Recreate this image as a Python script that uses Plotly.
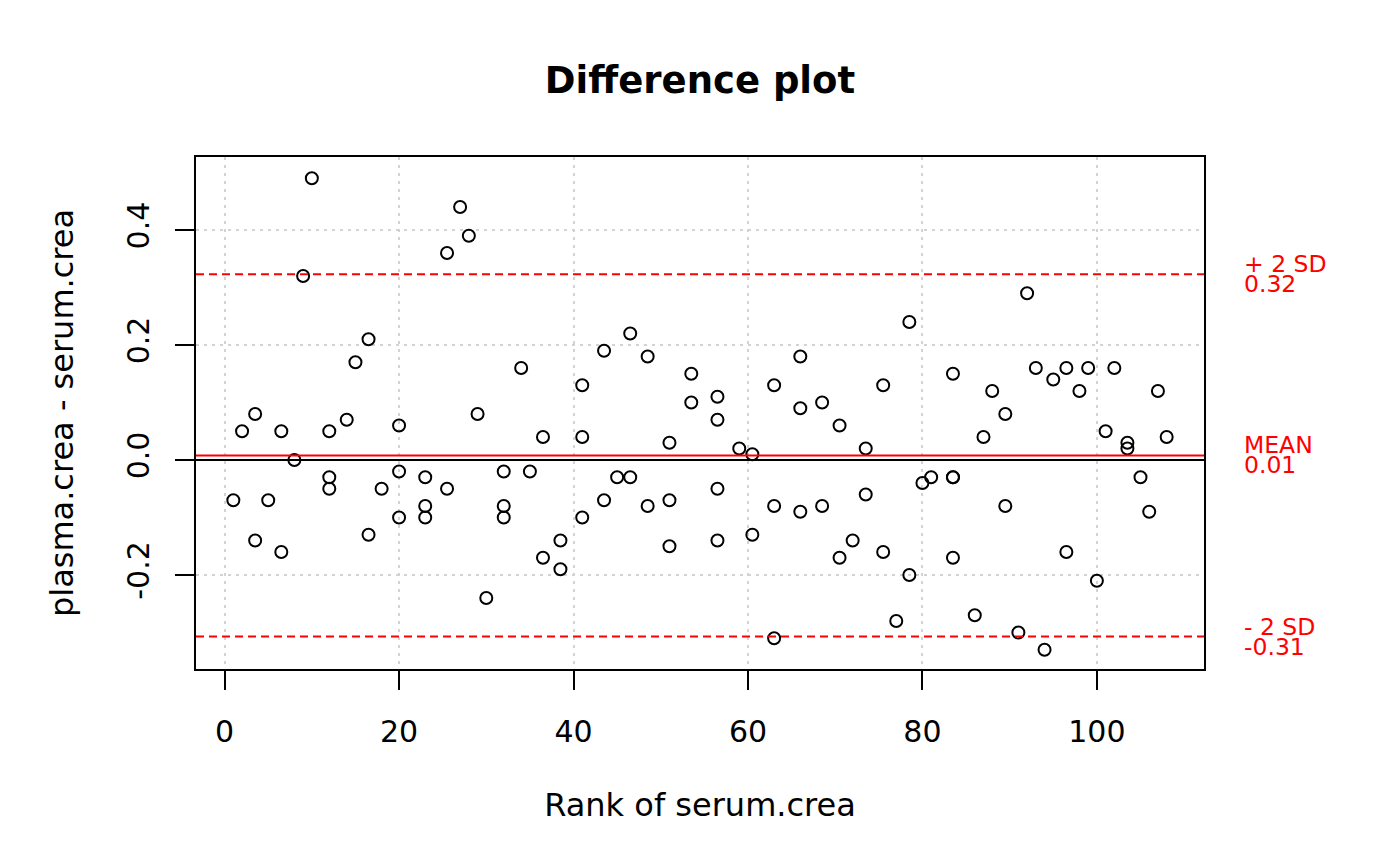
import plotly.graph_objects as go

# Ranks of serum.crea (x) and differences plasma.crea - serum.crea (y)
rank = [1, 2, 3.5, 3.5, 5, 6.5, 6.5, 8, 9, 10,
        12, 12, 12, 14, 15, 16.5, 16.5, 18, 20, 20,
        20, 23, 23, 23, 25.5, 25.5, 27, 28, 29, 30,
        32, 32, 32, 34, 35, 36.5, 36.5, 38.5, 38.5, 41,
        41, 41, 43.5, 43.5, 45, 46.5, 46.5, 48.5, 48.5, 51,
        51, 51, 53.5, 53.5, 56.5, 56.5, 56.5, 56.5, 59, 60.5,
        60.5, 63, 63, 63, 66, 66, 66, 68.5, 68.5, 70.5,
        70.5, 72, 73.5, 73.5, 75.5, 75.5, 77, 78.5, 78.5, 80,
        81, 83.5, 83.5, 83.5, 83.5, 86, 87, 88, 89.5, 89.5,
        91, 92, 93, 94, 95, 96.5, 96.5, 98, 99, 100,
        101, 102, 103.5, 103.5, 105, 106, 107, 108]
diff = [-0.07, 0.05, 0.08, -0.14, -0.07, 0.05, -0.16, 0.00, 0.32, 0.49,
        0.05, -0.03, -0.05, 0.07, 0.17, 0.21, -0.13, -0.05, 0.06, -0.02,
        -0.10, -0.03, -0.08, -0.10, 0.36, -0.05, 0.44, 0.39, 0.08, -0.24,
        -0.02, -0.08, -0.10, 0.16, -0.02, 0.04, -0.17, -0.14, -0.19, 0.13,
        0.04, -0.10, 0.19, -0.07, -0.03, 0.22, -0.03, 0.18, -0.08, 0.03,
        -0.07, -0.15, 0.15, 0.10, 0.11, 0.07, -0.05, -0.14, 0.02, 0.01,
        -0.13, 0.13, -0.08, -0.31, 0.18, 0.09, -0.09, 0.10, -0.08, 0.06,
        -0.17, -0.14, 0.02, -0.06, 0.13, -0.16, -0.28, 0.24, -0.20, -0.04,
        -0.03, 0.15, -0.03, -0.03, -0.17, -0.27, 0.04, 0.12, 0.08, -0.08,
        -0.30, 0.29, 0.16, -0.33, 0.14, 0.16, -0.16, 0.12, 0.16, -0.21,
        0.05, 0.16, 0.03, 0.02, -0.03, -0.09, 0.12, 0.04]

mean_diff = 0.008
upper_sd = 0.323
lower_sd = -0.307
ref_labels = [("+ 2 SD", "0.32", upper_sd), ("MEAN", "0.01", mean_diff), ("- 2 SD", "-0.31", lower_sd)]

x_ticks = [0, 20, 40, 60, 80, 100]
y_ticks = [-0.2, 0.0, 0.2, 0.4]

FONT = "DejaVu Sans"

fig = go.Figure()
fig.add_trace(go.Scatter(
    x=rank, y=diff, mode="markers",
    marker=dict(symbol="circle-open", size=12, color="black", line=dict(width=2, color="black")),
    showlegend=False, hoverinfo="x+y",
))

shapes = []
shapes.append(dict(type="line", xref="x domain", yref="y", x0=0, x1=1, y0=0, y1=0,
                   line=dict(color="black", width=2), layer="above"))
shapes.append(dict(type="line", xref="x domain", yref="y", x0=0, x1=1, y0=mean_diff, y1=mean_diff,
                   line=dict(color="red", width=2), layer="above"))
for v in (upper_sd, lower_sd):
    shapes.append(dict(type="line", xref="x domain", yref="y", x0=0, x1=1, y0=v, y1=v,
                       line=dict(color="red", width=2, dash="8px,5px"), layer="above"))

annotations = []
for top, bottom, v in ref_labels:
    annotations.append(dict(x=1.038, xref="paper", y=v, yref="y", text=top, showarrow=False,
                            xanchor="left", yanchor="middle", yshift=10,
                            font=dict(family=FONT, size=23.5, color="red")))
    annotations.append(dict(x=1.038, xref="paper", y=v, yref="y", text=bottom, showarrow=False,
                            xanchor="left", yanchor="middle", yshift=-10,
                            font=dict(family=FONT, size=23.5, color="red")))

fig.update_layout(
    width=1400, height=866, autosize=False,
    margin=dict(l=188, r=204, t=149, b=205),
    paper_bgcolor="white", plot_bgcolor="white",
    font=dict(family=FONT, size=30, color="black"),
    title=dict(text="<b>Difference plot</b>", x=0.5, xanchor="center", xref="paper",
               y=1 - 72 / 866, yanchor="middle", yref="container",
               font=dict(family=FONT, size=37, color="black")),
    shapes=shapes, annotations=annotations,
)
fig.update_xaxes(
    range=[-3.28, 112.28], tickvals=x_ticks, ticktext=[str(t) for t in x_ticks],
    showline=True, linecolor="black", linewidth=2, mirror=True,
    ticks="outside", ticklen=19, tickwidth=2, tickcolor="black",
    showgrid=True, gridcolor="#D3D3D3", gridwidth=2, griddash="3px,5px",
    zeroline=False, tickfont=dict(size=30), ticklabelstandoff=16,
    title=dict(text="Rank of serum.crea", standoff=46, font=dict(size=32)),
)
fig.update_yaxes(
    range=[-0.3635, 0.527], tickvals=y_ticks, ticktext=["-0.2", "0.0", "0.2", "0.4"],
    tickangle=-90,
    showline=True, linecolor="black", linewidth=2, mirror=True,
    ticks="outside", ticklen=19, tickwidth=2, tickcolor="black",
    showgrid=True, gridcolor="#D3D3D3", gridwidth=2, griddash="3px,5px",
    zeroline=False, tickfont=dict(size=30), ticklabelstandoff=14,
    title=dict(text="plasma.crea - serum.crea", standoff=38, font=dict(size=32)),
)

fig.write_html("out.html")
